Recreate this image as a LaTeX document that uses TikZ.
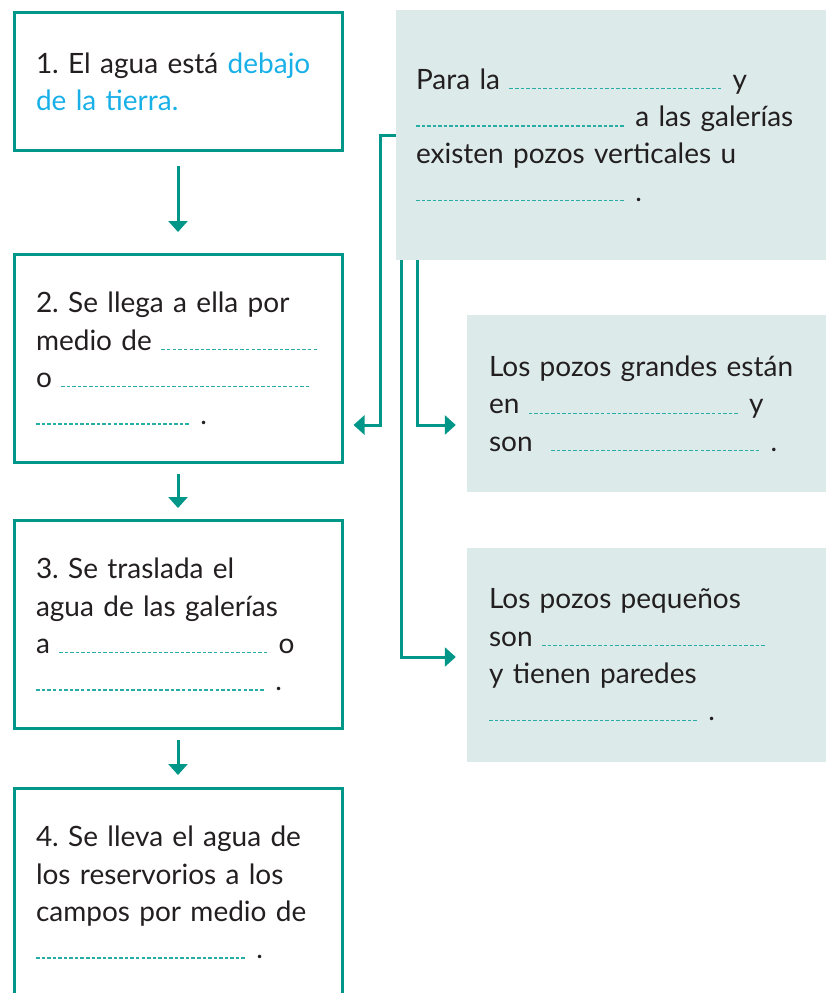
\documentclass[tikz,border=0pt]{standalone}
\usepackage{fontspec}
\setmainfont{Lato}
\usetikzlibrary{arrows.meta}
\definecolor{verdeazul}{RGB}{0,150,136}
\definecolor{fondo}{RGB}{220,235,234}
\definecolor{celeste}{RGB}{25,176,232}
\definecolor{punteado}{RGB}{40,172,166}
\definecolor{tinta}{RGB}{35,31,32}
\newcommand{\blank}[1]{\mbox{\color{punteado}\xleaders\hbox to 5.5pt{\rule{3.5pt}{1.2pt}\hss}\hskip #1pt}}
\newcommand{\letra}{\fontsize{28}{37.3}\selectfont\frenchspacing}
\tikzset{
  paso/.style={draw=verdeazul, line width=3pt, inner xsep=22pt, inner ysep=0pt,
    text width=284pt, minimum height=208pt, align=left, font=\letra, text=tinta},
  nota/.style={fill=fondo, inner ysep=0pt, align=left, font=\letra, text=tinta},
  flecha/.style={draw=verdeazul, line width=3pt, -{Triangle[width=19pt,length=11pt]}}
}

\begin{document}
\begin{tikzpicture}[x=1pt, y=-1pt]
  \useasboundingbox (0,0) rectangle (826,993);
  \clip (0,0) rectangle (826,993);

  % pasos
  \node[paso, minimum height=138pt] (b1) at (178,81.5)
    {1. El agua está \textcolor{celeste}{debajo}\\ \textcolor{celeste}{de la tierra.}};
  \node[paso] (b2) at (178,358.5)
    {2. Se llega a ella por\\ medio de \blank{158}\\ o \blank{250}\\ \blank{155} .};
  \node[paso] (b3) at (178,624.5)
    {3. Se traslada el\\ agua de las galerías\\ a \blank{210} o\\ \blank{230} .};
  \node[paso] (b4) at (178,892.5)
    {4. Se lleva el agua de\\ los reservorios a los\\ campos por medio de\\ \blank{211} .};

  % notas
  \node[nota, text width=390pt, inner xsep=20pt, minimum height=250pt] (n1) at (611,135)
    {Para la \blank{214} y\\ \blank{210} a las galerías\\ existen pozos verticales u\\ \blank{210} .};
  \node[nota, text width=315pt, inner xsep=22pt, minimum height=177pt] (n2) at (646.5,403.5)
    {Los pozos grandes están\\ en \blank{211} y\\ son \ \blank{210} .};
  \node[nota, text width=315pt, inner xsep=22pt, minimum height=214pt] (n3) at (646.5,655)
    {Los pozos pequeños\\ son \blank{225}\\ y tienen paredes\\ \blank{210} .};

  \draw[flecha, shorten <=14pt, shorten >=21pt] (b1) -- (b2);
  \draw[flecha, shorten <=10pt, shorten >=11pt] (b2) -- (b3);
  \draw[flecha, shorten <=10pt, shorten >=12pt] (b3) -- (b4);

  \draw[flecha, shorten >=10pt] (n1.west) -- ++(-15,0) |- ([yshift=-66.5pt]b2.east);
  \draw[flecha, shorten >=11pt] ([xshift=22pt]n1.south west) |- ([yshift=-21.5pt]n2.west);
  \draw[flecha, shorten >=11pt] ([xshift=6pt]n1.south west) |- ([yshift=-2pt]n3.west);
\end{tikzpicture}
\end{document}
